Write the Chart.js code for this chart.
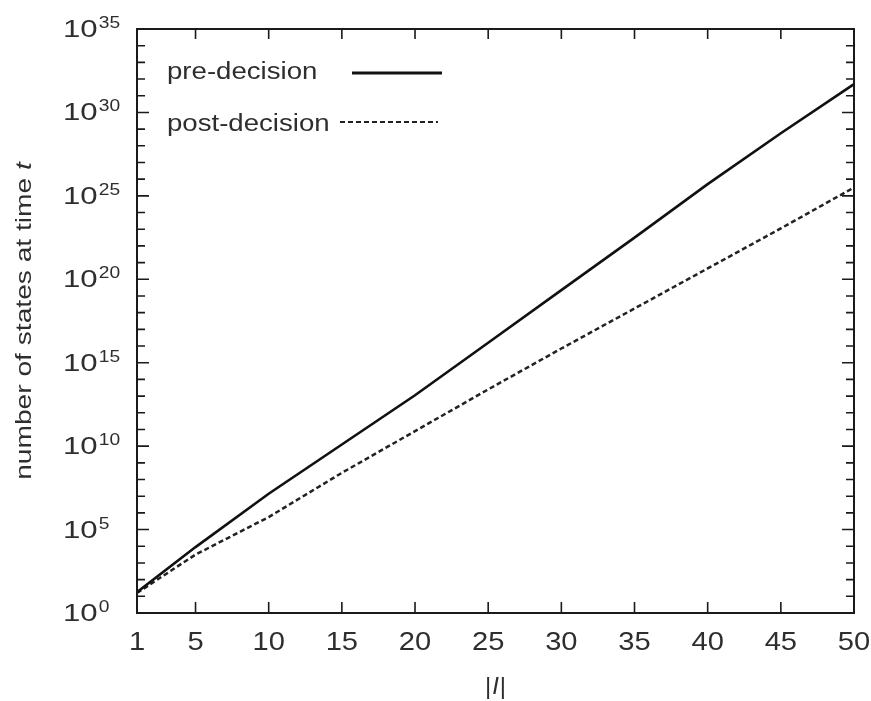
<!DOCTYPE html>
<html>
<head>
<meta charset="utf-8">
<script src="https://cdn.jsdelivr.net/npm/chart.js@4.4.1/dist/chart.umd.min.js"></script>
<style>
  html, body { margin: 0; padding: 0; background: #fff; }
  #wrap { width: 871px; height: 701px; }
</style>
</head>
<body>
<div id="wrap"><canvas id="myChart" width="871" height="701"></canvas></div>
<script>
// values (exponents of 10)
const xValues = [1, 5, 10, 15, 20, 25, 30, 35, 40, 45, 50];
const preDecisionExp = [1.25, 3.95, 7.15, 10.1, 13.05, 16.2, 19.35, 22.5, 25.7, 28.75, 31.7];
const postDecisionExp = [1.2, 3.5, 5.75, 8.4, 10.9, 13.4, 15.85, 18.25, 20.65, 23.05, 25.5];

const xTicks = [1, 5, 10, 15, 20, 25, 30, 35, 40, 45, 50];
const yLabelExps = [0, 5, 10, 15, 20, 25, 30, 35];
const yMinorExps = Array.from({ length: 36 }, (_, i) => i);

const seriesNames = ['pre-decision', 'post-decision'];
const axisTitleY = 'number of states at time ';
const axisTitleYItalic = 't';

(() => {
  'use strict';

  const FONT = '"Liberation Sans", Arial, Helvetica, sans-serif';
  const INK = '#1a1a1a';
  const TEXT = '#2e2e2e';

  function stretchText(ctx, text, x, y, sx, align) {
    ctx.save();
    ctx.translate(x, y);
    ctx.scale(sx, 1);
    ctx.textAlign = align || 'left';
    ctx.fillText(text, 0, 0);
    ctx.restore();
  }

  const toPoints = exps => xValues.map((x, i) => ({ x: x, y: Math.pow(10, exps[i]) }));

  // frame, inward ticks, labels, titles, legend
  const decorations = {
    id: 'decorations',
    afterDraw(chart) {
      const { ctx, chartArea: a, scales: { x, y } } = chart;
      ctx.save();
      ctx.strokeStyle = INK;
      ctx.fillStyle = TEXT;

      // ticks
      ctx.lineWidth = 1.6;
      ctx.beginPath();
      xTicks.forEach(v => {
        const px = x.getPixelForValue(v);
        ctx.moveTo(px, a.bottom); ctx.lineTo(px, a.bottom - 11);
        ctx.moveTo(px, a.top); ctx.lineTo(px, a.top + 10);
      });
      yMinorExps.forEach(e => {
        const py = y.getPixelForValue(Math.pow(10, e));
        const len = e % 5 === 0 ? 12 : 8;
        ctx.moveTo(a.left, py); ctx.lineTo(a.left + len, py);
        ctx.moveTo(a.right, py); ctx.lineTo(a.right - len, py);
      });
      ctx.stroke();

      // frame
      ctx.lineWidth = 2;
      ctx.strokeRect(a.left, a.top, a.right - a.left, a.bottom - a.top);

      // x tick labels
      ctx.textBaseline = 'alphabetic';
      ctx.font = '26px ' + FONT;
      xTicks.forEach(v => {
        stretchText(ctx, String(v), x.getPixelForValue(v), a.bottom + 37, 1.12, 'center');
      });

      // y tick labels 10^n
      yLabelExps.forEach(e => {
        const py = y.getPixelForValue(Math.pow(10, e));
        const left = a.left - 74;
        ctx.font = '24px ' + FONT;
        stretchText(ctx, '10', left, py + 8, 1.3, 'left');
        const w = ctx.measureText('10').width * 1.3;
        ctx.font = '16px ' + FONT;
        stretchText(ctx, String(e), left + w + 1, py - 1, 1.2, 'left');
      });

      // y axis title (rotated)
      ctx.save();
      ctx.translate(31, (a.top + a.bottom) / 2);
      ctx.rotate(-Math.PI / 2);
      ctx.scale(1.28, 1);
      ctx.font = '22px ' + FONT;
      const w1 = ctx.measureText(axisTitleY).width;
      ctx.font = 'italic 22px ' + FONT;
      const w2 = ctx.measureText(axisTitleYItalic).width;
      const start = -(w1 + w2) / 2;
      ctx.textAlign = 'left';
      ctx.font = '22px ' + FONT;
      ctx.fillText(axisTitleY, start, 0);
      ctx.font = 'italic 22px ' + FONT;
      ctx.fillText(axisTitleYItalic, start + w1, 0);
      ctx.restore();

      // x axis title |I|
      ctx.save();
      ctx.font = '24px ' + FONT;
      const bar = ctx.measureText('|').width;
      ctx.font = 'italic 24px ' + FONT;
      const iw = ctx.measureText('I').width;
      const cx = (a.left + a.right) / 2;
      let tx = cx - (bar * 2 + iw + 2) / 2;
      ctx.textAlign = 'left';
      ctx.font = '24px ' + FONT;
      ctx.fillText('|', tx, 694);
      tx += bar + 1;
      ctx.font = 'italic 24px ' + FONT;
      ctx.fillText('I', tx, 694);
      tx += iw + 1;
      ctx.font = '24px ' + FONT;
      ctx.fillText('|', tx, 694);
      ctx.restore();

      // legend
      const rows = [
        { text: seriesNames[0], base: 79, ly: 73, x0: 352, x1: 442 },
        { text: seriesNames[1], base: 131, ly: 122, x0: 340, x1: 438 }
      ];
      rows.forEach((r, i) => {
        const ds = chart.data.datasets[i];
        ctx.font = '23px ' + FONT;
        stretchText(ctx, r.text, 167, r.base, 1.2, 'left');
        ctx.save();
        ctx.strokeStyle = ds.borderColor;
        ctx.lineWidth = i === 0 ? 3 : 2.2;
        ctx.setLineDash(ds.borderDash || []);
        ctx.beginPath();
        ctx.moveTo(r.x0, r.ly);
        ctx.lineTo(r.x1, r.ly);
        ctx.stroke();
        ctx.restore();
      });

      ctx.restore();
    }
  };

  const ctx1 = document.getElementById('myChart');
  const myChart = new Chart(ctx1, {
    type: 'line',
    data: {
      datasets: [
        {
          label: seriesNames[0],
          data: toPoints(preDecisionExp),
          borderColor: '#111',
          borderWidth: 2.6,
          pointRadius: 0,
          tension: 0,
          fill: false
        },
        {
          label: seriesNames[1],
          data: toPoints(postDecisionExp),
          borderColor: '#222',
          borderWidth: 2.5,
          borderDash: [5, 3],
          pointRadius: 0,
          tension: 0,
          fill: false
        }
      ]
    },
    options: {
      responsive: false,
      animation: false,
      layout: {
        padding: { left: 137, top: 29, right: 17, bottom: 88 }
      },
      plugins: {
        legend: { display: false },
        tooltip: { enabled: false }
      },
      scales: {
        x: {
          type: 'linear',
          min: 1,
          max: 50,
          display: false
        },
        y: {
          type: 'logarithmic',
          min: 1,
          max: 1e35,
          display: false
        }
      }
    },
    plugins: [decorations]
  });
})();
</script>
</body>
</html>
